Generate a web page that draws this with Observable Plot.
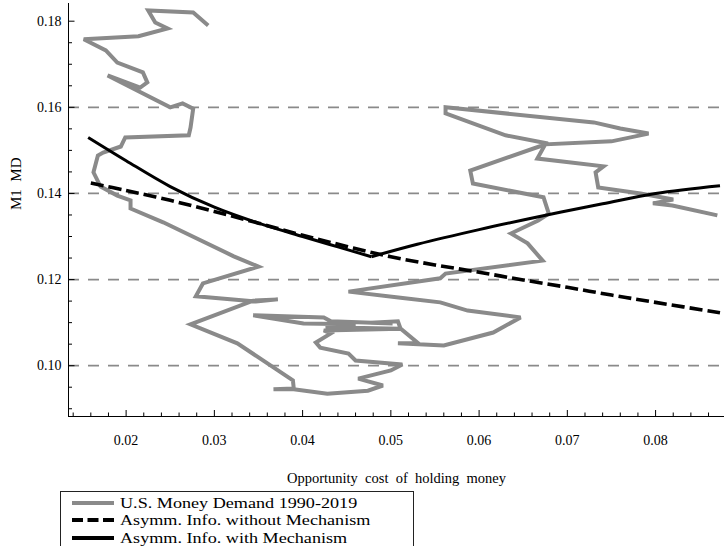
<!DOCTYPE html>
<html>
<head>
<meta charset="utf-8">
<script src="https://cdn.jsdelivr.net/npm/d3@7"></script>
<script src="https://cdn.jsdelivr.net/npm/@observablehq/plot@0.6"></script>
<style>
  html, body { margin: 0; padding: 0; background: #fff; overflow: hidden; width: 724px; height: 546px; }
  #chart { position: absolute; left: 0; top: 0; }
  #legend { position: absolute; left: 60px; top: 491px; width: 354px; height: 60px; box-sizing: border-box;
            border: 1px solid #222; background: #fff; font-family: "Liberation Serif", serif; font-size: 15.5px; color: #000; }
  .row { position: absolute; left: 0; height: 17.8px; line-height: 17.8px; white-space: nowrap; }
  .row svg { position: absolute; left: 11px; top: 6px; }
  .row span { position: absolute; left: 59px; top: 0; display: inline-block; transform: scaleX(1.17); transform-origin: 0 50%; }
</style>
</head>
<body>
<div id="chart"></div>
<div id="legend"></div>
<script>
// U.S. money demand 1990-2019 (opportunity cost, M1/GDP), traced in time order
const moneyDemandCost = [0.0870,0.0819,0.0797,0.0820,0.0783,0.0735,0.0732,0.0741,0.0666,0.0675,0.0750,0.0792,0.0760,0.0730,0.0562,0.0562,0.0630,0.0678,0.0590,0.0593,0.0673,0.0679,0.0667,0.0636,0.0655,0.0672,0.0562,0.0556,0.0452,0.0511,0.0556,0.0587,0.0647,0.0616,0.0560,0.0508,0.0531,0.0511,0.0508,0.0477,0.0502,0.0432,0.0424,0.0344,0.0401,0.0460,0.0426,0.0511,0.0424,0.0432,0.0415,0.0420,0.0452,0.0460,0.0513,0.0500,0.0463,0.0491,0.0474,0.0428,0.0390,0.0367,0.0390,0.0389,0.0326,0.0273,0.0344,0.0372,0.0347,0.0279,0.0287,0.0350,0.0322,0.0242,0.0205,0.0205,0.0190,0.0171,0.0163,0.0168,0.0174,0.0194,0.0199,0.0271,0.0273,0.0276,0.0264,0.0250,0.0179,0.0216,0.0224,0.0219,0.0190,0.0177,0.0152,0.0214,0.0247,0.0233,0.0225,0.0276,0.0293];
const moneyDemandM1 = [0.1349,0.1372,0.1377,0.1386,0.1400,0.1414,0.1449,0.1463,0.1481,0.1514,0.1521,0.1539,0.1551,0.1565,0.1600,0.1586,0.1535,0.1516,0.1453,0.1423,0.1391,0.1353,0.1337,0.1307,0.1284,0.1244,0.1214,0.1203,0.1172,0.1158,0.1147,0.1128,0.1112,0.1077,0.1047,0.1052,0.1052,0.1086,0.1103,0.1100,0.1098,0.1103,0.1112,0.1117,0.1098,0.1096,0.1089,0.1086,0.1082,0.1075,0.1054,0.1042,0.1028,0.1012,0.1003,0.0989,0.0970,0.0954,0.0942,0.0935,0.0945,0.0945,0.0947,0.0966,0.1052,0.1096,0.1151,0.1154,0.1149,0.1161,0.1191,0.1230,0.1254,0.1333,0.1365,0.1384,0.1395,0.1416,0.1449,0.1488,0.1495,0.1509,0.1530,0.1535,0.1553,0.1597,0.1609,0.1600,0.1674,0.1646,0.1658,0.1681,0.1704,0.1732,0.1758,0.1765,0.1783,0.1797,0.1825,0.1820,0.1790];

// Asymmetric information without mechanism
const noMechCost = [0.0160,0.0200,0.0250,0.0300,0.0350,0.0400,0.0450,0.0500,0.0550,0.0600,0.0650,0.0700,0.0750,0.0800,0.0873];
const noMechMD   = [0.1424,0.1407,0.1384,0.1358,0.1331,0.1303,0.1277,0.1253,0.1234,0.1217,0.1199,0.1182,0.1164,0.1147,0.1123];

// Asymmetric information with mechanism (low-cost branch, then high-cost branch after the kink)
const withMechCostLow  = [0.0157,0.0200,0.0250,0.0300,0.0350,0.0400,0.0440,0.0478];
const withMechMDLow    = [0.1530,0.1476,0.1416,0.1368,0.1331,0.1300,0.1276,0.1253];
const withMechCostHigh = [0.0478,0.0530,0.0600,0.0670,0.0740,0.0800,0.0873];
const withMechMDHigh   = [0.1253,0.1282,0.1316,0.1347,0.1376,0.1400,0.1418];

const xTickLabels = [0.02,0.03,0.04,0.05,0.06,0.07,0.08];
const yTickLabels = [0.10,0.12,0.14,0.16,0.18];
const gridLevels  = [0.10,0.12,0.14,0.16];
const xTitle = "Opportunity\u00a0\u00a0cost\u00a0\u00a0of\u00a0\u00a0holding\u00a0\u00a0money";
const yTitle = "M1\u00a0\u00a0MD";
const legendLabels = ["U.S. Money Demand 1990-2019", "Asymm. Info. without Mechanism", "Asymm. Info. with Mechanism"];

const xLo = 0.01347, xHi = 0.08781, yLo = 0.0882, yHi = 0.18411;
const xMinor = d3.range(0.014, 0.0875, 0.002).filter(v => !xTickLabels.some(t => Math.abs(t - v) < 1e-6));
const yMinor = d3.range(0.09, 0.1841, 0.005).filter(v => !yTickLabels.some(t => Math.abs(t - v) < 1e-6));

const md = moneyDemandCost.map((c, i) => ({c, m: moneyDemandM1[i]}));
const nm = noMechCost.map((c, i) => ({c, m: noMechMD[i]}));
const wmLow = withMechCostLow.map((c, i) => ({c, m: withMechMDLow[i]}));
const wmHigh = withMechCostHigh.map((c, i) => ({c, m: withMechMDHigh[i]}));

const font = "Liberation Serif";
const gray = "#8a8a8a";

const plot = Plot.plot({
  width: 724,
  height: 491,
  marginLeft: 68,
  marginRight: 0,
  marginTop: 3,
  marginBottom: 75,
  style: {fontFamily: font, background: "#fff"},
  x: {domain: [xLo, xHi], axis: null},
  y: {domain: [yLo, yHi], axis: null},
  marks: [
    Plot.ruleY(gridLevels, {y: d => d, x1: xLo, x2: xHi, stroke: gray, strokeWidth: 1.8, strokeDasharray: "11,9"}),
    Plot.line(md, {x: "c", y: "m", stroke: gray, strokeWidth: 4, strokeLinejoin: "miter", strokeLinecap: "butt", strokeMiterlimit: 3}),
    Plot.line(nm, {x: "c", y: "m", stroke: "#000", strokeWidth: 3.6, strokeDasharray: "13,5", strokeLinecap: "butt", curve: "catmull-rom"}),
    Plot.line(wmLow, {x: "c", y: "m", stroke: "#000", strokeWidth: 3, strokeLinecap: "butt", curve: "catmull-rom"}),
    Plot.line(wmHigh, {x: "c", y: "m", stroke: "#000", strokeWidth: 3, strokeLinecap: "butt", curve: "catmull-rom"}),
    // axes lines
    Plot.ruleX([xLo], {x: d => d, y1: yLo, y2: yHi, stroke: "#000", strokeWidth: 1}),
    Plot.ruleY([yLo], {y: d => d, x1: xLo, x2: xHi, stroke: "#000", strokeWidth: 1}),
    // inward ticks
    Plot.ruleX(xTickLabels, {x: d => d, y1: yLo, y2: yLo, insetBottom: 6, stroke: "#000", strokeWidth: 1}),
    Plot.ruleX(xMinor, {x: d => d, y1: yLo, y2: yLo, insetBottom: 3.5, stroke: "#000", strokeWidth: 1}),
    Plot.ruleY(yTickLabels, {y: d => d, x1: xLo, x2: xLo, insetRight: -6.5, stroke: "#000", strokeWidth: 1}),
    Plot.ruleY(yMinor, {y: d => d, x1: xLo, x2: xLo, insetRight: -4, stroke: "#000", strokeWidth: 1}),
    // tick labels
    Plot.text(xTickLabels, {x: d => d, y: yLo, dy: 24, text: d => d.toFixed(2), fontSize: 14, fill: "#000"}),
    Plot.text(yTickLabels, {x: xLo, y: d => d, dx: -7, textAnchor: "end", text: d => d.toFixed(2), fontSize: 14, fill: "#000"}),
    // axis titles
    Plot.text([xTitle], {frameAnchor: "bottom", dy: 66, text: d => d, fontSize: 14.5, fill: "#000"}),
    Plot.text([yTitle], {frameAnchor: "left", dx: -52, dy: 0, rotate: -90, text: d => d, fontSize: 15, fill: "#000"})
  ]
});
document.getElementById("chart").appendChild(plot);

// legend
const legend = document.getElementById("legend");
const swatches = [
  `<svg width="42" height="6"><line x1="0" y1="3" x2="42" y2="3" stroke="${gray}" stroke-width="4"/></svg>`,
  `<svg width="42" height="6"><line x1="0" y1="3" x2="42" y2="3" stroke="#000" stroke-width="4" stroke-dasharray="11,4.5"/></svg>`,
  `<svg width="42" height="6"><line x1="0" y1="3" x2="42" y2="3" stroke="#000" stroke-width="4"/></svg>`
];
legendLabels.forEach((lab, i) => {
  const row = document.createElement("div");
  row.className = "row";
  row.style.top = (1.5 + i * 17.8) + "px";
  row.innerHTML = swatches[i] + `<span>${lab}</span>`;
  legend.appendChild(row);
});
</script>
</body>
</html>
